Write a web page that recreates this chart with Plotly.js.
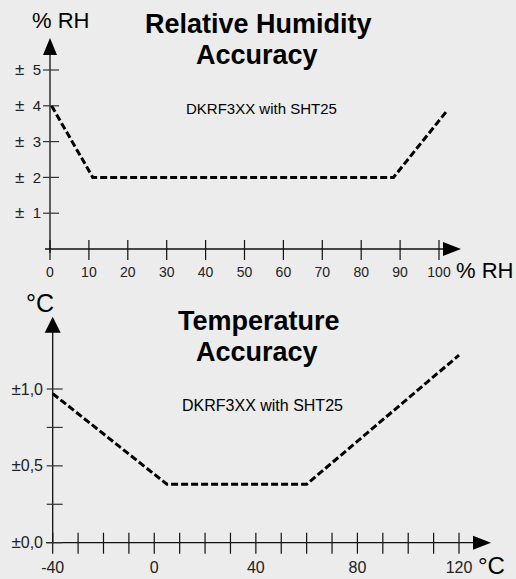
<!DOCTYPE html>
<html><head><meta charset="utf-8">
<script src="https://cdn.plot.ly/plotly-3.0.1.min.js"></script>
<style>html,body{margin:0;padding:0;background:#ebeceb;overflow:hidden;}</style>
</head><body><div id="chart" style="width:516px;height:579px;"></div>
<script>
// ---------- data ----------
const rhX = [0.4, 11, 88.3, 102.2];
const rhY = [4, 2, 2, 3.88];
const tempX = [-40, 5, 60, 120];
const tempY = [0.97, 0.38, 0.38, 1.22];

const rhXTickVals = [0, 10, 20, 30, 40, 50, 60, 70, 80, 90, 100];
const rhXTickText = ['0', '10', '20', '30', '40', '50', '60', '70', '80', '90', '100'];
const rhYTickVals = [1, 2, 3, 4, 5];
const rhYTickText = ['1', '2', '3', '4', '5'];

const tempXTickVals = [-40, 0, 40, 80, 120];
const tempXTickText = ['-40', '0', '40', '80', '120'];
const tempXMinorTicks = [-40, -30, -20, -10, 0, 10, 20, 30, 40, 50, 60, 70, 80, 90, 100, 110, 120];
const tempYTickVals = [0, 0.5, 1.0];
const tempYTickText = ['0,0', '0,5', '1,0'];
const tempYMinorTicks = [0, 0.25, 0.5, 0.75, 1.0];

const rhTitle = ['Relative Humidity', 'Accuracy'];
const tempTitle = ['Temperature', 'Accuracy'];
const subLabel = 'DKRF3XX with SHT25';

// ---------- geometry helpers ----------
const W = 516, H = 579;
const FONT = 'Liberation Sans, Arial, sans-serif';
const INK = '#111111';
const PM = '<span style="font-size:17px">±</span>';
function rangeFor(p0, v0, p1, v1, pa, pb) {
  const k = (v1 - v0) / (p1 - p0);
  return [v0 + (pa - p0) * k, v0 + (pb - p0) * k];
}
const topXDomPx = [42, 480], topYDomPx = [30, 262];
const topXRange = rangeFor(50, 0, 439, 100, topXDomPx[0], topXDomPx[1]);
const topYRange = rangeFor(249, 0, 70, 5, topYDomPx[1], topYDomPx[0]);
const botXDomPx = [44, 500], botYDomPx = [300, 556];
const botXRange = rangeFor(52.7, -40, 459, 120, botXDomPx[0], botXDomPx[1]);
const botYRange = rangeFor(542.7, 0, 389, 1, botYDomPx[1], botYDomPx[0]);
function pxVal(p, p0, v0, p1, v1) { return v0 + (p - p0) * (v1 - v0) / (p1 - p0); }

const traces = [
  {x: rhX, y: rhY, xaxis: 'x', yaxis: 'y', mode: 'lines', hoverinfo: 'skip',
   line: {color: '#000', width: 3, dash: '7px,3px'}},
  {x: tempX, y: tempY, xaxis: 'x2', yaxis: 'y2', mode: 'lines', hoverinfo: 'skip',
   line: {color: '#000', width: 3, dash: '7px,3px'}}
];

const shapes = [];
function hline(xr, yr, x0, x1, y) { shapes.push({type: 'line', xref: xr, yref: yr, x0: x0, x1: x1, y0: y, y1: y, line: {color: INK, width: 1.3}}); }
function vline(xr, yr, x, y0, y1) { shapes.push({type: 'line', xref: xr, yref: yr, x0: x, x1: x, y0: y0, y1: y1, line: {color: INK, width: 1.3}}); }
function xtick(xr, yr, v, dn, up) { shapes.push({type: 'line', xref: xr, yref: yr, x0: v, x1: v, ysizemode: 'pixel', yanchor: 0, y0: -dn, y1: up, line: {color: INK, width: 1.2}}); }
function ytick(xr, yr, xa, v, lf, rt) { shapes.push({type: 'line', xref: xr, yref: yr, y0: v, y1: v, xsizemode: 'pixel', xanchor: xa, x0: -lf, x1: rt, line: {color: '#333', width: 1.2}}); }
function arrow(xr, yr, xa, ya, path) { shapes.push({type: 'path', xref: xr, yref: yr, xsizemode: 'pixel', ysizemode: 'pixel', xanchor: xa, yanchor: ya, path: path, fillcolor: '#000', line: {width: 0}}); }

const tX = p => pxVal(p, 50, 0, 439, 100);
const tY = p => pxVal(p, 249, 0, 70, 5);
hline('x', 'y', tX(45), tX(450), 0);
vline('x', 'y', 0, tY(253), tY(48));
rhXTickVals.forEach(v => xtick('x', 'y', v, 11, 9));
rhYTickVals.forEach(v => ytick('x', 'y', 0, v, 7, 9));
arrow('x', 'y', tX(461), 0, 'M0,0 L-18,7 L-18,-7 Z');
arrow('x', 'y', 0, tY(38), 'M0,0 L-7,-17 L7,-17 Z');

const bX = p => pxVal(p, 52.7, -40, 459, 120);
const bY = p => pxVal(p, 542.7, 0, 389, 1);
hline('x2', 'y2', bX(46), bX(480), 0);
vline('x2', 'y2', -40, 0, bY(325));
tempXMinorTicks.forEach(v => xtick('x2', 'y2', v, 11, 10));
tempYMinorTicks.forEach(v => ytick('x2', 'y2', -40, v, 6, 10));
arrow('x2', 'y2', bX(491), 0, 'M0,0 L-18,7 L-18,-7 Z');
arrow('x2', 'y2', -40, bY(316.7), 'M0,0 L-8,-16 L8,-16 Z');

function ann(text, cx, cy, size, bold, xanchor) {
  return {text: text, xref: 'paper', yref: 'paper', x: cx / W, y: 1 - cy / H,
    xanchor: xanchor || 'center', yanchor: 'middle', showarrow: false,
    font: {family: FONT, size: size, color: '#000', weight: bold ? 700 : 400}};
}
const annotations = [
  ann(rhTitle[0], 258, 23.6, 27, true),
  ann(rhTitle[1], 257, 54.6, 27, true),
  ann(subLabel, 261, 109, 15),
  ann('% RH', 60.5, 20.6, 22),
  ann('% RH', 454, 270.6, 22, false, 'left'),
  ann(tempTitle[0], 259, 320.6, 27, true),
  ann(tempTitle[1], 257, 352.3, 27, true),
  ann(subLabel, 262, 405.4, 16),
  ann('°C', 39.7, 303, 25),
  ann('°C', 491, 565, 24)
];

function axisX(dom, rng, anchor, vals, text, size) {
  return {domain: [dom[0] / W, dom[1] / W], range: rng, anchor: anchor, showgrid: false, zeroline: false,
    showline: false, ticks: '', tickvals: vals, ticktext: text, fixedrange: true,
    tickfont: {family: FONT, size: size, color: '#222'}, automargin: false};
}
function axisY(dom, rng, anchor, vals, text, size) {
  return {domain: [1 - dom[1] / H, 1 - dom[0] / H], range: rng, anchor: anchor, showgrid: false, zeroline: false,
    showline: false, ticks: '', tickvals: vals, ticktext: text, fixedrange: true,
    tickfont: {family: FONT, size: size, color: '#222'}, automargin: false};
}

const layout = {
  width: W, height: H, margin: {l: 0, r: 0, t: 0, b: 0},
  paper_bgcolor: '#ebeceb', plot_bgcolor: 'rgba(0,0,0,0)', showlegend: false,
  font: {family: FONT},
  xaxis: axisX(topXDomPx, topXRange, 'y', rhXTickVals, rhXTickText, 14),
  yaxis: axisY(topYDomPx, topYRange, 'x', rhYTickVals, rhYTickText.map(t => PM + '  ' + t), 15),
  xaxis2: axisX(botXDomPx, botXRange, 'y2', tempXTickVals, tempXTickText, 16),
  yaxis2: axisY(botYDomPx, botYRange, 'x2', tempYTickVals, tempYTickText.map(t => PM + t), 16),
  shapes: shapes, annotations: annotations
};
Plotly.newPlot('chart', traces, layout, {staticPlot: true, displayModeBar: false});
</script></body></html>
